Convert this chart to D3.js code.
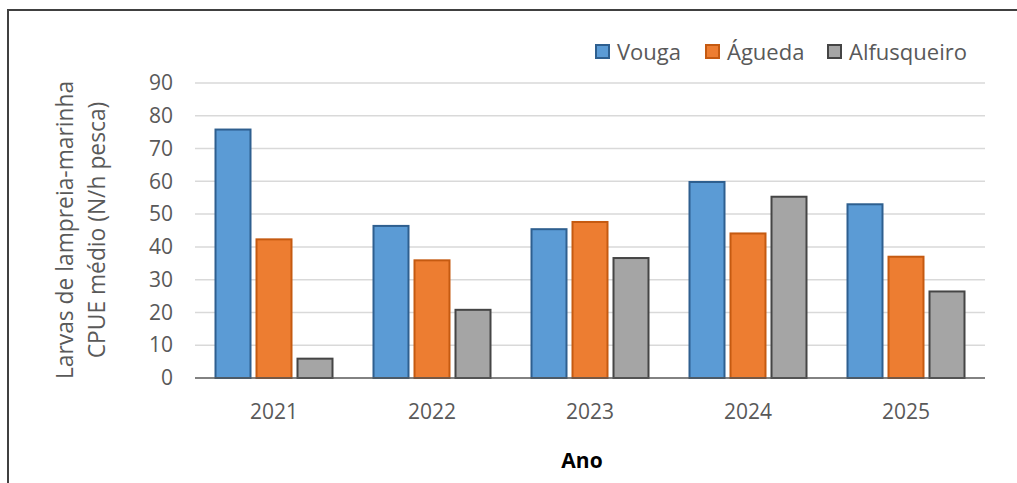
<!DOCTYPE html>
<html>
<head>
<meta charset="utf-8">
<script src="https://cdn.jsdelivr.net/npm/d3@7"></script>
<style>
  body { margin: 0; background: #fff; }
  text { font-family: "Open Sans", sans-serif; }
</style>
</head>
<body>
<div id="chart"></div>
<script>
// chart data
var years = ["2021", "2022", "2023", "2024", "2025"];
var series = ["Vouga", "Águeda", "Alfusqueiro"];
var vouga = [75.8, 46.4, 45.4, 59.8, 53.0];
var agueda = [42.3, 35.9, 47.6, 44.1, 37.0];
var alfusqueiro = [5.9, 20.8, 36.6, 55.3, 26.4];
var yTicks = [0, 10, 20, 30, 40, 50, 60, 70, 80, 90];

var fills = ["#5b9bd5", "#ed7d31", "#a5a5a5"];
var strokes = ["#2e5f8f", "#c55a11", "#454545"];

function draw() {
    var w = 1017, h = 483;
    var left = 195, right = 985, top = 83, bottom = 378;

    var svg = d3.select("#chart").append("svg")
                .attr("width", w)
                .attr("height", h);

    // outer frame (cut by the picture on right and bottom)
    svg.append("rect")
       .attr("x", 8).attr("y", 10)
       .attr("width", 1040).attr("height", 500)
       .attr("fill", "none")
       .attr("stroke", "#404040")
       .attr("stroke-width", 2);

    var x0 = d3.scaleBand().domain(years).range([left, right])
               .paddingInner(41 / 158).paddingOuter(41 / 316);
    var x1 = d3.scaleBand().domain(series).range([0, x0.bandwidth()])
               .paddingInner(6 / 41);
    var y = d3.scaleLinear().domain([0, 90]).range([bottom, top]);

    // gridlines
    svg.append("g").selectAll("line")
       .data(yTicks.slice(1))
       .enter().append("line")
       .attr("x1", left).attr("x2", right)
       .attr("y1", function(d) { return y(d); })
       .attr("y2", function(d) { return y(d); })
       .attr("stroke", "#d9d9d9")
       .attr("stroke-width", 1.5);

    // y axis labels
    var yAxis = d3.axisLeft(y).tickValues(yTicks).tickSize(0).tickPadding(0);
    var gy = svg.append("g").attr("transform", "translate(173,0)").call(yAxis);
    gy.select(".domain").remove();
    gy.selectAll("text")
      .attr("font-size", "21px")
      .attr("fill", "#595959")
      .style("font-family", "'Open Sans', sans-serif");

    // bars
    var rows = years.map(function(yr, i) {
        return { year: yr, vals: [vouga[i], agueda[i], alfusqueiro[i]] };
    });

    var groups = svg.append("g").selectAll("g")
                    .data(rows)
                    .enter().append("g")
                    .attr("transform", function(d) { return "translate(" + x0(d.year) + ",0)"; });

    groups.selectAll("rect")
          .data(function(d) { return d.vals.map(function(v, k) { return { s: series[k], k: k, v: v }; }); })
          .enter().append("rect")
          .attr("x", function(d) { return x1(d.s); })
          .attr("y", function(d) { return y(d.v); })
          .attr("width", x1.bandwidth())
          .attr("height", function(d) { return y(0) - y(d.v); })
          .attr("fill", function(d) { return fills[d.k]; })
          .attr("stroke", function(d) { return strokes[d.k]; })
          .attr("stroke-width", 2);

    // x axis
    var xAxis = d3.axisBottom(x0).tickSize(0).tickPadding(0);
    var gx = svg.append("g").attr("transform", "translate(0," + bottom + ")").call(xAxis);
    gx.select(".domain")
      .attr("stroke", "#595959")
      .attr("stroke-width", 1.5)
      .attr("d", "M" + left + ",0H" + right);
    gx.selectAll("text")
      .attr("y", 41)
      .attr("dy", 0)
      .attr("font-size", "21px")
      .attr("fill", "#595959")
      .style("font-family", "'Open Sans', sans-serif");

    // axis titles
    svg.append("text")
       .attr("x", 582).attr("y", 468)
       .attr("text-anchor", "middle")
       .attr("font-size", "21px")
       .attr("font-weight", "bold")
       .attr("fill", "#000")
       .text("Ano");

    var yt = svg.append("text")
                .attr("transform", "translate(0,230) rotate(-90)")
                .attr("text-anchor", "middle")
                .attr("font-size", "22.8px")
                .attr("fill", "#595959");
    yt.append("tspan").attr("x", 0).attr("y", 73).text("Larvas de lampreia-marinha");
    yt.append("tspan").attr("x", 0).attr("y", 105).text("CPUE médio (N/h pesca)");

    // legend
    var legX = [596, 706, 828];
    var leg = svg.append("g").selectAll("g")
                 .data(series)
                 .enter().append("g")
                 .attr("transform", function(d, i) { return "translate(" + legX[i] + ",45)"; });
    leg.append("rect")
       .attr("width", 13).attr("height", 13)
       .attr("fill", function(d, i) { return fills[i]; })
       .attr("stroke", function(d, i) { return strokes[i]; })
       .attr("stroke-width", 2);
    leg.append("text")
       .attr("x", 21).attr("y", 15)
       .attr("font-size", "22px")
       .attr("fill", "#595959")
       .text(function(d) { return d; });
}

window.onload = draw;
</script>
</body>
</html>
